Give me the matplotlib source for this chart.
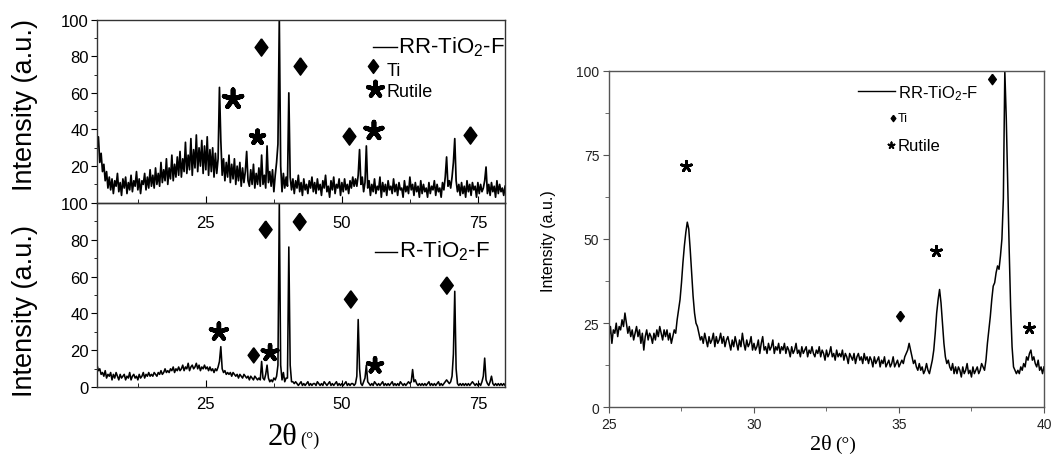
import numpy as np
import matplotlib
matplotlib.use('Agg')
import matplotlib.pyplot as plt
from matplotlib.ticker import MultipleLocator

plt.rcParams['font.family'] = 'Liberation Sans'
plt.rcParams['mathtext.fontset'] = 'custom'
plt.rcParams['mathtext.rm'] = 'Liberation Sans'
plt.rcParams['mathtext.it'] = 'Liberation Sans:italic'

# --- DATA ---
# full scans, 2theta 5..80 deg every 0.25 deg
wide_start, wide_stop = 5, 80
rr_wide = [
    30, 36, 22, 27, 17, 21, 12, 17, 8, 14, 7, 13, 5, 12, 9, 16, 6, 11, 4, 13,
    8, 14, 5, 11, 7, 15, 6, 12, 9, 17, 7, 13, 5, 12, 10, 16, 7, 14, 8, 18,
    9, 15, 8, 19, 10, 16, 9, 22, 11, 18, 12, 24, 10, 19, 13, 26, 12, 21, 14, 25,
    15, 28, 14, 24, 17, 33, 16, 26, 18, 35, 15, 29, 19, 37, 17, 30, 20, 34, 16, 31,
    18, 36, 15, 29, 17, 30, 14, 27, 16, 24, 63, 34, 15, 24, 12, 22, 14, 26, 11, 21,
    13, 24, 10, 20, 12, 22, 9, 19, 11, 17, 28, 12, 9, 18, 10, 21, 8, 16, 10, 19,
    9, 26, 10, 15, 8, 31, 11, 17, 9, 18, 6, 15, 22, 32, 100, 20, 6, 16, 8, 14,
    9, 60, 14, 7, 13, 5, 12, 8, 15, 6, 11, 4, 13, 7, 10, 5, 12, 8, 14, 6,
    11, 5, 13, 7, 10, 4, 12, 8, 15, 6, 9, 3, 12, 7, 14, 5, 10, 8, 13, 4,
    11, 6, 13, 7, 10, 5, 12, 8, 14, 9, 13, 9, 15, 29, 10, 14, 6, 11, 31, 8,
    12, 4, 10, 6, 13, 5, 9, 7, 14, 3, 11, 6, 10, 4, 12, 7, 9, 5, 13, 6,
    10, 4, 11, 7, 8, 3, 12, 6, 9, 5, 14, 7, 10, 4, 11, 6, 9, 3, 12, 5,
    10, 6, 8, 3, 11, 5, 9, 7, 12, 4, 10, 6, 8, 3, 11, 7, 14, 25, 9, 12,
    8, 14, 22, 35, 12, 6, 10, 4, 11, 5, 9, 3, 12, 6, 10, 4, 11, 7, 9, 3,
    11, 5, 10, 6, 8, 12, 19.5, 5, 10, 4, 11, 6, 9, 3, 12, 5, 10, 6, 8, 4,
    9]
r_wide = [
    12, 9, 10, 7, 8, 6, 9, 5, 7, 6, 8, 4, 7, 5, 8, 6, 4, 7, 5, 6,
    7, 4, 6, 5, 8, 4, 6, 7, 5, 6, 4, 7, 5, 6, 8, 5, 7, 6, 8, 6,
    7, 6, 8, 7, 6, 8, 7, 9, 7, 8, 10, 8, 9, 8, 10, 9, 11, 8, 10, 9,
    11, 9, 10, 12, 9, 11, 10, 13, 9, 11, 12, 10, 11, 13, 10, 12, 9, 11, 10, 12,
    10, 11, 9, 11, 9, 10, 8, 10, 9, 11, 14, 22, 10, 8, 9, 7, 8, 7, 8, 6,
    8, 7, 6, 7, 5, 7, 6, 5, 7, 6, 5, 6, 4, 6, 5, 4, 6, 5, 4, 5,
    4, 14, 5, 4, 7, 12, 5, 3, 4, 3, 5, 4, 6, 12, 100, 12, 4, 8, 3, 5,
    5, 76, 12, 3, 3, 2, 3, 2, 1, 2, 3, 1, 2, 1, 2, 3, 1, 2, 1, 2,
    2, 1, 3, 2, 1, 2, 1, 3, 2, 1, 2, 3, 1, 2, 1, 2, 3, 1, 2, 1,
    2, 1, 2, 3, 1, 2, 1, 2, 2, 1, 2, 6, 36.7, 10, 2, 1, 3, 5, 12, 3,
    2, 1, 2, 1, 3, 2, 1, 2, 1, 2, 3, 1, 2, 1, 2, 1, 2, 3, 1, 2,
    1, 2, 1, 3, 2, 1, 2, 1, 2, 3, 2, 3, 9.6, 3, 4, 2, 1, 2, 1, 2,
    1, 2, 1, 2, 3, 1, 2, 1, 2, 1, 2, 3, 1, 2, 1, 2, 3, 4, 3, 2,
    3, 6, 18, 52, 10, 2, 1, 2, 1, 2, 1, 2, 1, 2, 1, 2, 3, 2, 1, 2,
    1, 2, 1, 3, 6, 15.8, 4, 2, 1, 3, 6, 2, 1, 2, 1, 2, 1, 2, 1, 2,
    1]

# detail scan of RR-TiO2-F, 2theta 25..40 deg every 0.05 deg
zoom_start, zoom_stop = 25, 40
rr_zoom = [
    21, 24, 19, 23, 22, 25, 21, 24, 23, 26, 24, 28, 25, 22, 24, 21, 23, 20, 22, 24,
    21, 23, 19, 22, 17, 21, 23, 20, 22, 21, 19, 22, 20, 23, 21, 24, 22, 20, 23, 21,
    23, 20, 22, 19, 21, 23, 22, 26, 29, 32, 37, 43, 48, 52, 55, 53, 47, 40, 33, 28,
    25, 24, 22, 20, 21, 19, 22, 20, 18, 21, 19, 20, 22, 18, 21, 19, 20, 22, 19, 21,
    18, 20, 21, 19, 17, 20, 18, 21, 19, 17, 20, 18, 22, 19, 17, 20, 18, 19, 21, 17,
    19, 17, 18, 20, 16, 19, 21, 17, 18, 16, 19, 17, 18, 20, 16, 18, 17, 19, 16, 18,
    17, 19, 16, 18, 17, 15, 18, 16, 17, 19, 16, 17, 15, 18, 16, 17, 18, 15, 17, 16,
    18, 16, 15, 17, 16, 18, 15, 17, 16, 14, 17, 15, 16, 18, 15, 16, 14, 17, 15, 16,
    15, 17, 14, 16, 15, 13, 16, 15, 14, 16, 13, 15, 16, 14, 15, 13, 16, 14, 15, 13,
    15, 14, 12, 15, 13, 14, 15, 12, 14, 13, 15, 12, 13, 14, 12, 13, 15, 12, 13, 14,
    12, 13, 14, 13, 15, 16, 17, 19, 17, 15, 13, 14, 12, 11, 13, 11, 12, 10, 11, 13,
    11, 10, 12, 14, 17, 22, 28, 32, 35, 31, 25, 19, 15, 13, 14, 12, 11, 13, 10, 12,
    10, 12, 11, 9, 12, 10, 11, 13, 10, 11, 9, 12, 10, 11, 12, 10, 11, 13, 12, 11,
    14, 19, 23, 27, 32, 36, 37, 40, 42, 41, 45, 50, 62, 100, 86, 66, 47, 30, 18, 12,
    11, 10, 11, 10, 12, 11, 13, 12, 15, 14, 16, 17, 14, 15, 13, 12, 14, 11, 12, 10,
    12]

# phase marks (2theta, height, size)
rr_ti_x = [35.2, 42.25, 51.4, 73.5]
rr_ti_y = [85.3, 74.7, 36.6, 37.0]
rr_rutile_x = [30.0, 34.5, 55.9]
rr_rutile_y = [56.6, 35.7, 39.3]
rr_rutile_ms = [13.5, 9.5, 12.5]

r_ti_x = [36.0, 42.25, 33.8, 51.65, 69.3]
r_ti_y = [85.4, 89.6, 17.3, 47.6, 55.1]
r_ti_ms = [12.5, 12.5, 11, 12.5, 12.5]
r_rutile_x = [27.4, 36.8, 56.1]
r_rutile_y = [30.0, 18.7, 11.8]
r_rutile_ms = [12, 11, 10.5]

zoom_ti_x = [35.03, 38.2]
zoom_ti_y = [27.0, 97.5]
zoom_rutile_x = [27.66, 36.27, 39.48]
zoom_rutile_y = [71.7, 46.5, 23.6]

DIAMOND = [(0, 1), (0.74, 0), (0, -1), (-0.74, 0), (0, 1)]
STAR = (5, 2, 0)

tw_wide = np.linspace(wide_start, wide_stop, len(rr_wide))
tw_zoom = np.linspace(zoom_start, zoom_stop, len(rr_zoom))

fig = plt.figure(figsize=(10.56, 4.56), dpi=100)
fig.patch.set_facecolor('white')

ax_bot = fig.add_axes([0.0919, 0.1485, 0.3864, 0.4048])
ax_top = fig.add_axes([0.0919, 0.5533, 0.3864, 0.4013])
ax_r = fig.add_axes([0.5767, 0.1046, 0.4119, 0.7382])
# top panel's tick labels sit over the lower panel
ax_top.set_zorder(3)
ax_top.patch.set_alpha(0)

spine_col = '#333333'
for ax, ys, lw in [(ax_top, rr_wide, 1.25), (ax_bot, r_wide, 1.15)]:
    ax.plot(tw_wide, ys, color='black', lw=lw)
    ax.set_xlim(wide_start, wide_stop)
    ax.set_ylim(0, 100)
    ax.xaxis.set_major_locator(MultipleLocator(25))
    ax.xaxis.set_minor_locator(MultipleLocator(12.5))
    ax.yaxis.set_minor_locator(MultipleLocator(10))
    ax.tick_params(axis='x', which='both', direction='in', labelsize=12, pad=6)
    ax.tick_params(axis='x', which='major', length=5)
    ax.tick_params(axis='x', which='minor', length=3)
    ax.tick_params(axis='y', which='both', direction='out', labelsize=12, pad=2)
    ax.tick_params(axis='y', which='major', length=4)
    ax.tick_params(axis='y', which='minor', length=2)
    for s in ax.spines.values():
        s.set_color(spine_col)
        s.set_linewidth(1.0)
ax_top.tick_params(axis='x', which='major', pad=9)

ax_top.set_yticks([20, 40, 60, 80, 100])
ax_bot.set_yticks([0, 20, 40, 60, 80, 100])

# phase markers, top panel
ax_top.scatter(rr_ti_x, rr_ti_y, s=12.5 ** 2, marker=DIAMOND, color='black', zorder=4)
ax_top.scatter(rr_rutile_x, rr_rutile_y, s=np.array(rr_rutile_ms) ** 2, marker=STAR,
               color='black', linewidths=3.4, zorder=4)
ax_top.plot([55.7, 60.1], [85.1, 85.1], color='black', lw=1)
ax_top.text(60.3, 85.6, 'RR-TiO$_\\mathregular{2}$-F', fontsize=16, va='center', ha='left')
ax_top.scatter([55.7], [74.7], s=10 ** 2, marker=DIAMOND, color='black')
ax_top.text(58.2, 72.0, 'Ti', fontsize=13, va='center', ha='left')
ax_top.scatter([56.1], [62.0], s=11 ** 2, marker=STAR, color='black', linewidths=3.2)
ax_top.text(58.2, 60.8, 'Rutile', fontsize=13, va='center', ha='left')

# phase markers, bottom panel
ax_bot.scatter(r_ti_x, r_ti_y, s=np.array(r_ti_ms) ** 2, marker=DIAMOND, color='black',
               zorder=4, clip_on=False)
ax_bot.scatter(r_rutile_x, r_rutile_y, s=np.array(r_rutile_ms) ** 2, marker=STAR,
               color='black', linewidths=3.2, zorder=4)
ax_bot.plot([56.1, 60.2], [73.1, 73.1], color='black', lw=1)
ax_bot.text(60.5, 74.2, 'R-TiO$_\\mathregular{2}$-F', fontsize=16, va='center', ha='left')

# detail panel
ax_r.plot(tw_zoom, rr_zoom, color='black', lw=1.1)
ax_r.set_xlim(zoom_start, zoom_stop)
ax_r.set_ylim(0, 100)
ax_r.xaxis.set_major_locator(MultipleLocator(5))
ax_r.xaxis.set_minor_locator(MultipleLocator(2.5))
ax_r.yaxis.set_major_locator(MultipleLocator(25))
ax_r.yaxis.set_minor_locator(MultipleLocator(12.5))
ax_r.tick_params(which='both', direction='out', labelsize=10, labelcolor='#222222',
                 color='#555555', pad=3)
ax_r.tick_params(which='major', length=4)
ax_r.tick_params(which='minor', length=3)
for s in ax_r.spines.values():
    s.set_color('#555555')
    s.set_linewidth(1.0)
ax_r.scatter(zoom_ti_x, zoom_ti_y, s=7.5 ** 2, marker=DIAMOND, color='black', zorder=4)
ax_r.scatter(zoom_rutile_x, zoom_rutile_y, s=7.5 ** 2, marker=STAR, color='black',
             linewidths=2.0, zorder=4)
ax_r.plot([33.59, 34.86], [94.0, 94.0], color='black', lw=1)
ax_r.text(34.97, 93.6, 'RR-TiO$_\\mathregular{2}$-F', fontsize=12, va='center', ha='left')
ax_r.scatter([34.79], [86.0], s=4.5 ** 2, marker=DIAMOND, color='black')
ax_r.text(34.97, 86.0, 'Ti', fontsize=9, va='center', ha='left')
ax_r.scatter([34.72], [78.0], s=4.5 ** 2, marker=STAR, color='black', linewidths=1.3)
ax_r.text(34.97, 77.9, 'Rutile', fontsize=12, va='center', ha='left')

# axis titles
W, H = 1056.0, 456.0
fig.text(25 / W, 1 - 105 / H, 'Intensity (a.u.)', rotation=90, fontsize=19.5,
         ha='center', va='center')
fig.text(25 / W, 1 - 311 / H, 'Intensity (a.u.)', rotation=90, fontsize=19.5,
         ha='center', va='center')
fig.text(297 / W, 1 - 445 / H, '2\u03b8', fontsize=22, family='Liberation Serif',
         ha='right', va='baseline')
fig.text(300 / W, 1 - 445 / H, '(\u00b0)', fontsize=13, family='Liberation Serif',
         ha='left', va='baseline')
fig.text(548 / W, 1 - 241 / H, 'Intensity (a.u.)', rotation=90, fontsize=11.5,
         ha='center', va='center')
fig.text(832 / W, 1 - 450 / H, '2\u03b8', fontsize=16, family='Liberation Serif',
         ha='right', va='baseline')
fig.text(835 / W, 1 - 450 / H, '(\u00b0)', fontsize=14, family='Liberation Serif',
         ha='left', va='baseline')

fig.savefig('out.png', dpi=100)
